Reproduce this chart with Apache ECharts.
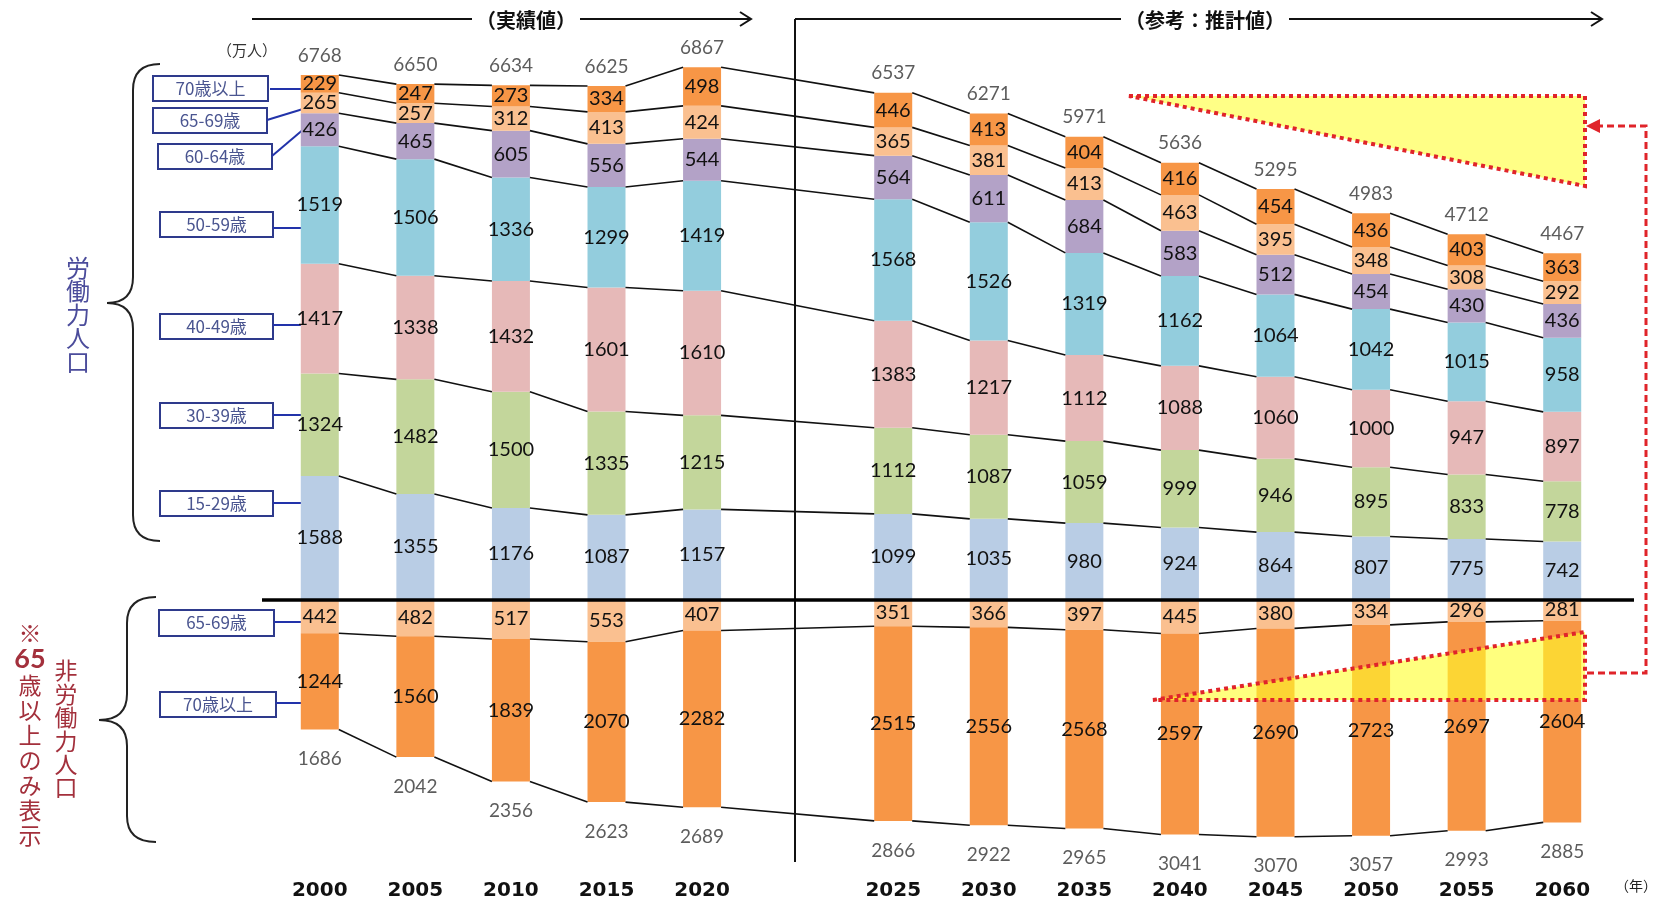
<!DOCTYPE html>
<html>
<head>
<meta charset="utf-8">
<title>労働力人口の推移</title>
<script src="https://cdn.jsdelivr.net/npm/echarts@6/dist/echarts.min.js"></script>
<style>
  html, body { margin: 0; padding: 0; background: #fff; }
  #chart { width: 1658px; height: 901px; }
</style>
</head>
<body>
<div id="chart"></div>
<script>
// 年（2020 と 2025 の間は区切りのため1枠空ける）
const years = ['2000', '2005', '2010', '2015', '2020', '2025', '2030', '2035', '2040', '2045', '2050', '2055', '2060']
const GAP_AT = 5

// 労働力人口（万人）下から順
const lf1529 = [1588, 1355, 1176, 1087, 1157, 1099, 1035, 980, 924, 864, 807, 775, 742]
const lf3039 = [1324, 1482, 1500, 1335, 1215, 1112, 1087, 1059, 999, 946, 895, 833, 778]
const lf4049 = [1417, 1338, 1432, 1601, 1610, 1383, 1217, 1112, 1088, 1060, 1000, 947, 897]
const lf5059 = [1519, 1506, 1336, 1299, 1419, 1568, 1526, 1319, 1162, 1064, 1042, 1015, 958]
const lf6064 = [426, 465, 605, 556, 544, 564, 611, 684, 583, 512, 454, 430, 436]
const lf6569 = [265, 257, 312, 413, 424, 365, 381, 413, 463, 395, 348, 308, 292]
const lf70 = [229, 247, 273, 334, 498, 446, 413, 404, 416, 454, 436, 403, 363]
const lfTotal = [6768, 6650, 6634, 6625, 6867, 6537, 6271, 5971, 5636, 5295, 4983, 4712, 4467]

// 非労働力人口（65歳以上のみ）
const nl6569 = [442, 482, 517, 553, 407, 351, 366, 397, 445, 380, 334, 296, 281]
const nl70 = [1244, 1560, 1839, 2070, 2282, 2515, 2556, 2568, 2597, 2690, 2723, 2697, 2604]
const nlTotal = [1686, 2042, 2356, 2623, 2689, 2866, 2922, 2965, 3041, 3070, 3057, 2993, 2885]

const BAR_W = 38
const HALF = BAR_W / 2
const NUM_FONT = 'Lato, "Liberation Sans", sans-serif'
const JP_FONT = '"Noto Sans CJK JP", sans-serif'

const catIndex = j => (j < GAP_AT ? j : j + 1)
const withGap = arr => [...arr.slice(0, GAP_AT), '-', ...arr.slice(GAP_AT)]
const axisCats = withGap(years).map(v => (v === '-' ? '' : v))

const upLayers = [
  { name: '15-29歳', data: lf1529, color: '#B9CDE5' },
  { name: '30-39歳', data: lf3039, color: '#C3D69B' },
  { name: '40-49歳', data: lf4049, color: '#E6B9B8' },
  { name: '50-59歳', data: lf5059, color: '#93CDDD' },
  { name: '60-64歳', data: lf6064, color: '#B3A2C7' },
  { name: '65-69歳', data: lf6569, color: '#FAC090' },
  { name: '70歳以上', data: lf70, color: '#F79646' }
]
const downLayers = [
  { name: '非65-69歳', data: nl6569, color: '#FAC090' },
  { name: '非70歳以上', data: nl70, color: '#F79646' }
]

// 各境界の累積値（系列線用）
function cumulative(layers, sign) {
  const out = []
  const acc = years.map(() => 0)
  layers.forEach(l => {
    l.data.forEach((v, j) => { acc[j] += v })
    out.push(acc.map(v => v * sign))
  })
  return out
}
const levelsUp = cumulative(upLayers, 1)
const levelsDown = cumulative(downLayers, -1)

const labelStyle = {
  show: true,
  position: 'inside',
  color: '#111',
  fontSize: 20,
  fontFamily: NUM_FONT,
  formatter: p => Math.abs(p.value)
}

const series = []
upLayers.forEach(l => {
  series.push({
    name: l.name, type: 'bar', stack: 'all', barWidth: BAR_W,
    itemStyle: { color: l.color }, label: labelStyle,
    data: withGap(l.data), animation: false
  })
})
downLayers.forEach(l => {
  series.push({
    name: l.name, type: 'bar', stack: 'all', barWidth: BAR_W,
    itemStyle: { color: l.color }, label: labelStyle,
    data: withGap(l.data.map(v => -v)), animation: false
  })
})

// 合計ラベル
series.push({
  type: 'scatter', symbolSize: 0, silent: true, animation: false,
  label: { show: true, position: 'top', distance: 10, color: '#333', fontSize: 19, fontFamily: NUM_FONT, formatter: p => p.value[2] },
  data: lfTotal.map((t, j) => [catIndex(j), levelsUp[levelsUp.length - 1][j], t])
})
series.push({
  type: 'scatter', symbolSize: 0, silent: true, animation: false,
  label: { show: true, position: 'bottom', distance: 20, color: '#333', fontSize: 19, fontFamily: NUM_FONT, formatter: p => p.value[2] },
  data: nlTotal.map((t, j) => [catIndex(j), levelsDown[levelsDown.length - 1][j], t])
})

// 棒の間をつなぐ系列線
series.push({
  type: 'custom', silent: true, animation: false, z: 3,
  data: years.slice(0, -1).map((y, j) => [catIndex(j), 0]),
  renderItem(params, api) {
    const j = params.dataIndex
    const a = catIndex(j)
    const b = catIndex(j + 1)
    const children = []
    levelsUp.concat(levelsDown).forEach(lv => {
      const p1 = api.coord([a, lv[j]])
      const p2 = api.coord([b, lv[j + 1]])
      children.push({
        type: 'line',
        shape: { x1: p1[0] + HALF, y1: p1[1], x2: p2[0] - HALF, y2: p2[1] },
        style: { stroke: '#111', lineWidth: 1.6 }
      })
    })
    return { type: 'group', children }
  }
})

// 注記（ラベル枠・括弧・矢印など）
function box(x, y, w, h, text, lineTo) {
  return [{
    type: 'rect', shape: { x, y, width: w, height: h },
    style: { fill: '#fff', stroke: '#2E3A8C', lineWidth: 2 }
  }, {
    type: 'text', x: x + w / 2, y: y + h / 2,
    style: { text, fill: '#4A5590', font: '17px ' + JP_FONT, textAlign: 'center', textVerticalAlign: 'middle' }
  }, {
    type: 'line', shape: { x1: lineTo[0], y1: lineTo[1], x2: lineTo[2], y2: lineTo[3] },
    style: { stroke: '#2233AA', lineWidth: 2 }
  }]
}

// 波括弧：xEnd は上下の端、xSpine は縦線、xTip は中央の先端
function brace(xTip, xSpine, xEnd, yTop, yMid, yBot) {
  const st = { stroke: '#222', lineWidth: 2, fill: null }
  const r = 26
  return [
    { type: 'bezierCurve', shape: { x1: xEnd, y1: yTop, cpx1: xSpine, cpy1: yTop, x2: xSpine, y2: yTop + r }, style: st },
    { type: 'line', shape: { x1: xSpine, y1: yTop + r, x2: xSpine, y2: yMid - r }, style: st },
    { type: 'bezierCurve', shape: { x1: xSpine, y1: yMid - r, cpx1: xSpine, cpy1: yMid, x2: xTip, y2: yMid }, style: st },
    { type: 'bezierCurve', shape: { x1: xTip, y1: yMid, cpx1: xSpine, cpy1: yMid, x2: xSpine, y2: yMid + r }, style: st },
    { type: 'line', shape: { x1: xSpine, y1: yMid + r, x2: xSpine, y2: yBot - r }, style: st },
    { type: 'bezierCurve', shape: { x1: xSpine, y1: yBot - r, cpx1: xSpine, cpy1: yBot, x2: xEnd, y2: yBot }, style: st }
  ]
}

const red = '#E0242A'
const redDot = { stroke: red, lineWidth: 4, lineDash: [4, 4] }

const graphic = [].concat(
  box(153, 76, 115, 25, '70歳以上', [270, 89, 302, 89]),
  box(153, 108, 114, 25, '65-69歳', [267, 120, 303, 109]),
  box(158, 144, 114, 25, '60-64歳', [272, 156, 305, 128]),
  box(160, 212, 113, 25, '50-59歳', [273, 228, 302, 228]),
  box(160, 314, 113, 25, '40-49歳', [273, 325, 302, 325]),
  box(160, 403, 113, 25, '30-39歳', [273, 415, 302, 415]),
  box(160, 491, 113, 25, '15-29歳', [273, 503, 302, 503]),
  box(159, 610, 115, 26, '65-69歳', [274, 622, 302, 622]),
  box(160, 692, 116, 25, '70歳以上', [276, 703, 302, 703]),
  brace(107, 133, 160, 64, 303, 541),
  brace(99, 127, 156, 597, 720, 842),
  [
    // 上部の矢印
    { type: 'line', shape: { x1: 252, y1: 19, x2: 751, y2: 19 }, style: { stroke: '#111', lineWidth: 2 } },
    { type: 'polyline', shape: { points: [[740, 12], [751, 19], [740, 26]] }, style: { stroke: '#111', lineWidth: 2, fill: null } },
    { type: 'text', x: 526, y: 20, style: { text: '（実績値）', fill: '#111', backgroundColor: '#fff', padding: [0, 4], font: 'bold 20px ' + JP_FONT, textAlign: 'center', textVerticalAlign: 'middle' } },
    { type: 'line', shape: { x1: 795, y1: 19, x2: 1602, y2: 19 }, style: { stroke: '#111', lineWidth: 2 } },
    { type: 'polyline', shape: { points: [[1591, 12], [1602, 19], [1591, 26]] }, style: { stroke: '#111', lineWidth: 2, fill: null } },
    { type: 'text', x: 1205, y: 20, style: { text: '（参考：推計値）', fill: '#111', backgroundColor: '#fff', padding: [0, 4], font: 'bold 20px ' + JP_FONT, textAlign: 'center', textVerticalAlign: 'middle' } },
    { type: 'line', shape: { x1: 795, y1: 19, x2: 795, y2: 862 }, style: { stroke: '#111', lineWidth: 2 } },
    // 基準線
    { type: 'line', z: 50, shape: { x1: 262, y1: 600, x2: 1634, y2: 600 }, style: { stroke: '#000', lineWidth: 3.5 } },
    // 単位
    { type: 'text', x: 247, y: 50, style: { text: '（万人）', fill: '#333', font: '15px ' + JP_FONT, textAlign: 'center', textVerticalAlign: 'middle' } },
    { type: 'text', x: 1636, y: 886, style: { text: '（年）', fill: '#222', font: '14px ' + JP_FONT, textAlign: 'center', textVerticalAlign: 'middle' } },
    // 縦書き
    { type: 'text', x: 78, y: 256, style: { text: '労\n働\n力\n人\n口', fill: '#4B4C9B', font: '24px ' + JP_FONT, lineHeight: 23.5, textAlign: 'center', textVerticalAlign: 'top' } },
    { type: 'text', x: 66, y: 659, style: { text: '非\n労\n働\n力\n人\n口', fill: '#A3303C', font: '23px ' + JP_FONT, lineHeight: 23.4, textAlign: 'center', textVerticalAlign: 'top' } },
    {
      type: 'text', x: 30, y: 621,
      style: {
        text: '{a|※}\n{b|65}\n{a|歳}\n{a|以}\n{a|上}\n{a|の}\n{a|み}\n{a|表}\n{a|示}',
        textAlign: 'center', textVerticalAlign: 'top',
        rich: {
          a: { fill: '#A3303C', fontSize: 23, fontFamily: JP_FONT, lineHeight: 25, align: 'center' },
          b: { fill: '#A3303C', fontSize: 27, fontWeight: 'bold', fontFamily: NUM_FONT, lineHeight: 27, align: 'center' }
        }
      }
    },
    // 黄色の三角形
    { type: 'polygon', z: 60, shape: { points: [[1129, 96], [1585, 96], [1585, 186]] }, style: Object.assign({ fill: 'rgba(255,255,60,0.62)' }, redDot) },
    { type: 'polygon', z: 60, shape: { points: [[1153, 700], [1585, 632], [1585, 700]] }, style: Object.assign({ fill: 'rgba(255,255,40,0.6)' }, redDot) },
    // 赤い破線の矢印
    { type: 'polyline', z: 60, shape: { points: [[1587, 673], [1646, 673], [1646, 126], [1598, 126]] }, style: { stroke: red, lineWidth: 3, lineDash: [7, 4], fill: null } },
    { type: 'polygon', z: 60, shape: { points: [[1586, 126], [1600, 119], [1600, 133]] }, style: { fill: red } }
  ]
)

const chart = echarts.init(document.getElementById('chart'))
chart.setOption({
  backgroundColor: '#fff',
  animation: false,
  grid: { left: 272, right: 48, top: 57, bottom: 29 },
  xAxis: {
    type: 'category',
    data: axisCats,
    axisLine: { show: false },
    axisTick: { show: false },
    axisLabel: { margin: 11, color: '#111', fontSize: 20, fontWeight: 'bold', fontFamily: '"DejaVu Sans", sans-serif' }
  },
  yAxis: {
    type: 'value', min: -3500, max: 7000, show: false, splitLine: { show: false }
  },
  series,
  graphic
})
</script>
</body>
</html>
